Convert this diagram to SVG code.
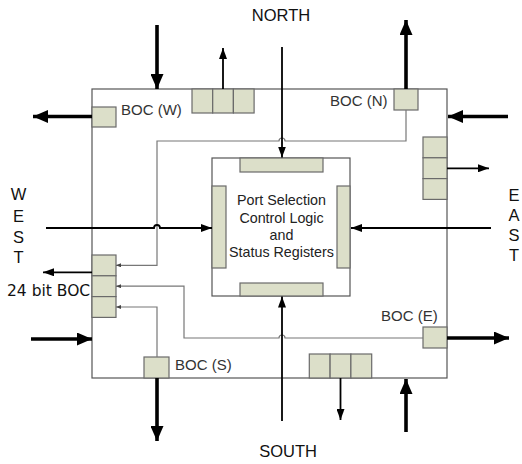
<svg xmlns="http://www.w3.org/2000/svg" width="522" height="464" viewBox="0 0 522 464">
<defs>
<marker id="thick" markerUnits="userSpaceOnUse" markerWidth="15" markerHeight="13" refX="15" refY="6.5" orient="auto"><path d="M0,0 L15,6.5 L0,13 z" fill="#000"/></marker>
<marker id="thin" markerUnits="userSpaceOnUse" markerWidth="11" markerHeight="8" refX="11" refY="4" orient="auto"><path d="M0,0 L11,4 L0,8 z" fill="#000"/></marker>
<marker id="tiny" markerUnits="userSpaceOnUse" markerWidth="5" markerHeight="4" refX="5" refY="2" orient="auto"><path d="M0,0 L5,2 L0,4 z" fill="#444"/></marker>
</defs>
<style>
.frame{fill:#fff;stroke:#555;stroke-width:1.2}
.box{fill:#dcdfc9;stroke:#6a6a6a;stroke-width:1.2}
.thk{fill:none;stroke:#000;stroke-width:3.6;marker-end:url(#thick)}
.thn{fill:none;stroke:#000;stroke-width:1.8;marker-end:url(#thin)}
.gry{fill:none;stroke:#777;stroke-width:1.2;marker-end:url(#tiny)}
.lbl{font-family:"Liberation Sans",Arial,sans-serif;font-size:15px;fill:#333}
.dir{font-family:"Liberation Sans",Arial,sans-serif;font-size:16.5px;fill:#111}
.ctr{font-family:"Liberation Sans",Arial,sans-serif;font-size:14.3px;fill:#222;text-anchor:middle}
</style>
<rect id="outer" class="frame" x="92" y="89" width="355" height="289"/>
<g id="core">
<rect class="frame" x="212" y="158" width="138" height="138"/>
<rect class="box" x="240" y="158" width="83" height="14"/>
<rect class="box" x="240" y="283" width="83" height="13"/>
<rect class="box" x="212" y="186" width="14" height="82"/>
<rect class="box" x="337" y="186" width="13" height="82"/>
<text class="ctr" x="281.5" y="205">Port Selection</text>
<text class="ctr" x="281.5" y="222.5">Control Logic</text>
<text class="ctr" x="281.5" y="240">and</text>
<text class="ctr" x="281.5" y="257">Status Registers</text>
</g>
<g id="bocW"><rect class="box" x="92" y="107" width="24" height="20"/><text class="lbl" x="121" y="114.5">BOC (W)</text></g>
<g id="bocN"><rect class="box" x="394" y="89" width="24" height="21"/><text class="lbl" x="330" y="106">BOC (N)</text></g>
<g id="bocE"><rect class="box" x="423" y="327" width="24" height="21"/><text class="lbl" x="381" y="321">BOC (E)</text></g>
<g id="bocS"><rect class="box" x="144" y="357" width="25" height="21"/><text class="lbl" x="175" y="370">BOC (S)</text></g>
<g id="inN"><rect class="box" x="192" y="89" width="20.7" height="24"/><rect class="box" x="212.7" y="89" width="20.7" height="24"/><rect class="box" x="233.4" y="89" width="20.7" height="24"/></g>
<g id="inE"><rect class="box" x="423" y="137" width="24" height="20.8"/><rect class="box" x="423" y="157.8" width="24" height="20.8"/><rect class="box" x="423" y="178.6" width="24" height="20.8"/></g>
<g id="inS"><rect class="box" x="309.3" y="354" width="20.8" height="24"/><rect class="box" x="330.1" y="354" width="20.8" height="24"/><rect class="box" x="350.9" y="354" width="20.8" height="24"/></g>
<g id="boc24"><rect class="box" x="92" y="255" width="24" height="20.8"/><rect class="box" x="92" y="275.8" width="24" height="20.8"/><rect class="box" x="92" y="296.6" width="24" height="20.8"/>
<text x="7" y="296" style="font-family:'DejaVu Sans',sans-serif;font-size:15.5px;fill:#111">24 bit BOC</text></g>
<g id="labels">
<text class="dir" x="281" y="20.5" text-anchor="middle">NORTH</text>
<text class="dir" x="288" y="457" text-anchor="middle">SOUTH</text>
<text class="dir" x="18.5" y="200" text-anchor="middle">W</text>
<text class="dir" x="18.5" y="221.5" text-anchor="middle">E</text>
<text class="dir" x="18.5" y="242.5" text-anchor="middle">S</text>
<text class="dir" x="18.5" y="263" text-anchor="middle">T</text>
<text class="dir" x="514" y="200.5" text-anchor="middle">E</text>
<text class="dir" x="514" y="221" text-anchor="middle">A</text>
<text class="dir" x="514" y="241" text-anchor="middle">S</text>
<text class="dir" x="514" y="261" text-anchor="middle">T</text>
</g>
<g id="connectors">
<path class="gry" d="M406,110 V141 H285 A3,3 0 0 0 279,141 H157 V265.3 H116"/>
<path class="gry" d="M423,338 H285 A3,3 0 0 0 279,338 H184 V286.2 H116"/>
<path class="gry" d="M157,357 V307 H116"/>
<path class="thk" d="M157,25 V89"/>
<path class="thk" d="M92,116.5 H33"/>
<path class="thn" d="M223,89 V48"/>
<path class="thn" d="M282,47 V157.5"/>
<path class="thk" d="M406,89 V20"/>
<path class="thk" d="M508,116.5 H448"/>
<path class="thn" d="M447,168.3 H489"/>
<path class="thn" d="M491,228 H351"/>
<path class="thn" d="M46,228 H154 A3,3 0 0 1 160,228 H212"/>
<path class="thn" d="M92,272.3 H43"/>
<path class="thk" d="M31,339 H92"/>
<path class="thk" d="M157,378 V441"/>
<path class="thn" d="M340.5,378 V420"/>
<path class="thk" d="M406,432 V379"/>
<path class="thn" d="M282,421 V296.5"/>
<path class="thk" d="M447,338 H509"/>
</g>
</svg>
